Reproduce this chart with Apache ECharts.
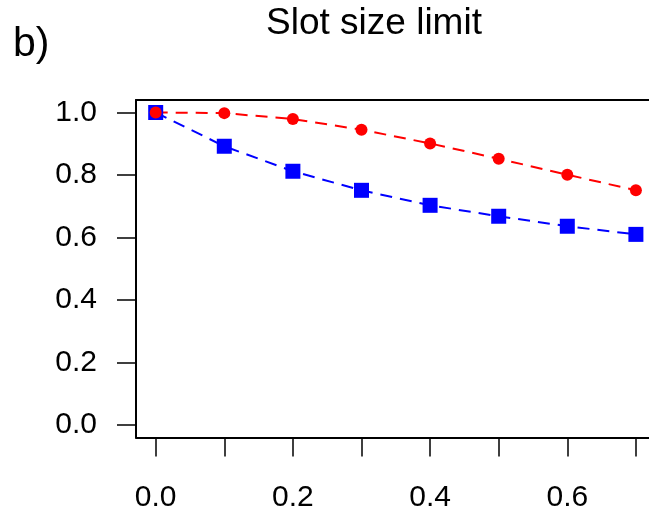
<!DOCTYPE html>
<html>
<head>
<meta charset="utf-8">
<script src="https://cdn.jsdelivr.net/npm/echarts@6/dist/echarts.min.js"></script>
<style>html,body{margin:0;padding:0;background:#fff}#c{width:649px;height:515px}</style>
</head>
<body>
<div id="c"></div>
<script>
var xValues = [0, 0.1, 0.2, 0.3, 0.4, 0.5, 0.6, 0.7];
var redValues = [1.0, 0.998, 0.979, 0.945, 0.901, 0.852, 0.801, 0.751];
var blueValues = [1.0, 0.892, 0.812, 0.751, 0.703, 0.668, 0.636, 0.610];
var xTicks = [0, 0.1, 0.2, 0.3, 0.4, 0.5, 0.6, 0.7];
var xLabels = [0, 0.2, 0.4, 0.6];
var yTicks = [0, 0.2, 0.4, 0.6, 0.8, 1.0];

function pairs(xs, ys){ return xs.map(function(x,i){ return [x, ys[i]]; }); }

var chart = echarts.init(document.getElementById('c'), null, {renderer:'canvas'});
var font = '"Liberation Sans", Arial, sans-serif';
var axisLineStyle = {color: '#000', width: 2};
chart.setOption({
  animation: false,
  backgroundColor: '#fff',
  title: [
    {text: 'Slot size limit', left: 369, top: 0, textAlign: 'center',
     textStyle: {fontFamily: font, fontSize: 37, fontWeight: 'normal', color: '#000'}},
    {text: 'b)', left: 8, top: 19,
     textStyle: {fontFamily: font, fontSize: 41, fontWeight: 'normal', color: '#000'}}
  ],
  grid: {left: 136, top: 100, right: 0, bottom: 77.5, show: false},
  xAxis: [{
    type: 'value', min: -0.0287, max: 0.7191, position: 'bottom',
    splitLine: {show: false},
    axisLine: {show: true, onZero: false, lineStyle: axisLineStyle},
    axisTick: {show: true, length: 19, lineStyle: {color: '#000', width: 1.5}, customValues: xTicks},
    axisLabel: {customValues: xLabels, margin: 45, fontFamily: font, fontSize: 30, color: '#000',
      formatter: function(v){ return Number(v).toFixed(1); }}
  }, {
    type: 'value', min: -0.0287, max: 0.7191, position: 'top',
    splitLine: {show: false},
    axisLine: {show: true, onZero: false, lineStyle: axisLineStyle},
    axisTick: {show: false}, axisLabel: {show: false}
  }],
  yAxis: {
    type: 'value', min: -0.04, max: 1.04,
    splitLine: {show: false},
    axisLine: {show: true, onZero: false, lineStyle: axisLineStyle},
    axisTick: {show: true, length: 19, lineStyle: {color: '#000', width: 1.5}, customValues: yTicks},
    axisLabel: {customValues: yTicks, margin: 39, fontFamily: font, fontSize: 30, color: '#000',
      formatter: function(v){ return Number(v).toFixed(1); }}
  },
  series: [
    {type: 'line', data: pairs(xValues, blueValues), symbol: 'rect', symbolSize: 15,
     itemStyle: {color: '#0000FF'}, lineStyle: {color: '#0000FF', width: 2, type: [12, 8]},
     clip: false},
    {type: 'line', data: pairs(xValues, redValues), symbol: 'circle', symbolSize: 12,
     itemStyle: {color: '#FF0000'}, lineStyle: {color: '#FF0000', width: 2, type: [12, 8]},
     clip: false}
  ]
});
</script>
</body>
</html>
